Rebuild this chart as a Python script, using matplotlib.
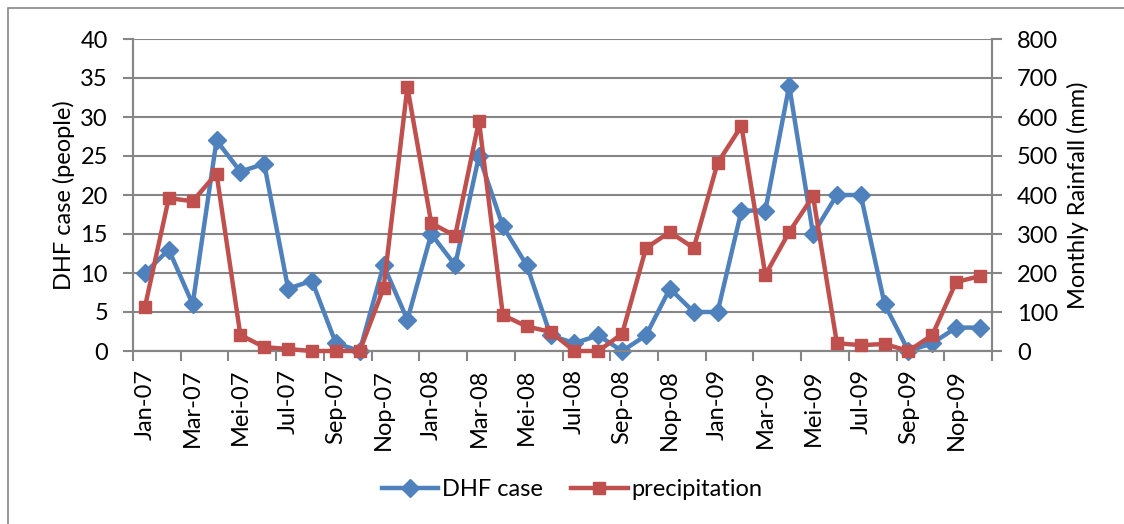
import matplotlib

matplotlib.use("Agg")
import matplotlib.pyplot as plt
from matplotlib.lines import Line2D
from matplotlib.patches import Rectangle

months = [
    "Jan-07", "Feb-07", "Mar-07", "Apr-07", "Mei-07", "Jun-07",
    "Jul-07", "Agu-07", "Sep-07", "Okt-07", "Nop-07", "Des-07",
    "Jan-08", "Feb-08", "Mar-08", "Apr-08", "Mei-08", "Jun-08",
    "Jul-08", "Agu-08", "Sep-08", "Okt-08", "Nop-08", "Des-08",
    "Jan-09", "Feb-09", "Mar-09", "Apr-09", "Mei-09", "Jun-09",
    "Jul-09", "Agu-09", "Sep-09", "Okt-09", "Nop-09", "Des-09",
]
dhf_case = [10, 13, 6, 27, 23, 24, 8, 9, 1, 0, 11, 4,
            15, 11, 25, 16, 11, 2, 1, 2, 0, 2, 8, 5,
            5, 18, 18, 34, 15, 20, 20, 6, 0, 1, 3, 3]
precipitation = [113, 392, 384, 455, 41, 10, 5, 0, 0, 0, 161, 677,
                 328, 295, 590, 92, 63, 49, 0, 0, 44, 264, 305, 264,
                 482, 577, 195, 305, 397, 20, 15, 18, 0, 41, 177, 192]

BLUE = "#4F81BD"
RED = "#C0504D"
GRID = "#868686"

plt.rcParams["font.family"] = ["Lato", "DejaVu Sans"]
plt.rcParams["font.size"] = 17

fig = plt.figure(figsize=(11.24, 5.24), dpi=100)
fig.patches.append(Rectangle((8 / 1124, -0.1), 1.2, 1.1 - 8 / 524, transform=fig.transFigure,
                             fill=False, edgecolor=GRID, linewidth=1.2))
ax = fig.add_axes([133 / 1124, 1 - 351 / 524, (992 - 133) / 1124, (351 - 39) / 524])
ax2 = ax.twinx()

x = list(range(len(months)))
ax.plot(x, dhf_case, color=BLUE, linewidth=3.2, marker="D", markersize=9.5,
        clip_on=False, zorder=3)
ax2.plot(x, precipitation, color=RED, linewidth=3.2, marker="s", markersize=8.5,
         clip_on=False, zorder=3)

ax.set_xlim(-0.5, len(months) - 0.5)
ax.set_ylim(0, 40)
ax2.set_ylim(0, 800)
ax.set_yticks(range(0, 41, 5))
ax2.set_yticks(range(0, 801, 100))
ax.yaxis.grid(True, color=GRID, linewidth=1.5)
ax.set_axisbelow(True)

ax.set_xticks(x[::2])
ax.set_xticklabels(months[::2], rotation=90)
ax.set_xticks([i - 0.5 for i in range(0, len(months) + 1, 2)], minor=True)
ax.tick_params(axis="x", which="major", length=0, pad=13)
ax.tick_params(axis="x", which="minor", length=7, width=1.5, color=GRID)
ax.tick_params(axis="y", length=7, width=1.5, color=GRID, pad=11)
ax2.tick_params(axis="y", length=7, width=1.5, color=GRID, pad=11)

for a in (ax, ax2):
    for side in ("left", "right", "bottom"):
        a.spines[side].set_color(GRID)
        a.spines[side].set_linewidth(1.5)
    a.spines["top"].set_visible(False)

ax.set_ylabel("DHF case (people)", labelpad=4)
ax2.set_ylabel("Monthly Rainfall (mm)", labelpad=6)

handles = [
    Line2D([], [], color=BLUE, linewidth=3.2, marker="D", markersize=9.5),
    Line2D([], [], color=RED, linewidth=3.2, marker="s", markersize=8.5),
]
fig.legend(handles, ["DHF case", "precipitation"], loc="center",
           bbox_to_anchor=(572 / 1124, 1 - 490 / 524), ncol=2, frameon=False,
           handlelength=2.4, handletextpad=0.15, columnspacing=1.2)

fig.savefig("out.png", dpi=100)
plt.close(fig)
